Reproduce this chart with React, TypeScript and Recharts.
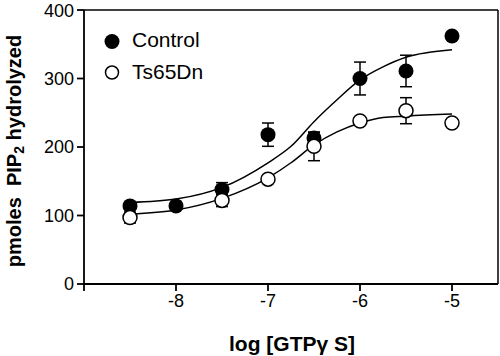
import React from "react";
import { ComposedChart, Line, Scatter, ErrorBar, XAxis, YAxis, ReferenceLine } from "recharts";

// log [GTPγS] doses
const doses = [-8.5, -8, -7.5, -7, -6.5, -6, -5.5, -5];

// measured values (pmoles PIP2 hydrolyzed)
const controlValues = [114, 114, 138, 218, 213, 300, 311, 362];
const controlErr = [0, 0, 10, 17, 8, 24, 23, 0];
const ts65Values = [97, null, 122, 153, 201, 238, 253, 235];
const ts65Err = [8, 0, 9, 0, 21, 0, 19, 0];

// fitted curves
const curveX = [-8.5, -8, -7.5, -7, -6.75, -6.5, -6.25, -6, -5.75, -5.5, -5];
const controlCurve = [119, 124, 141, 177, 201, 237, 269, 298, 317, 331, 342];
const ts65Curve = [102, 108, 125, 155, 177, 203, 222, 235, 243, 245, 248];

const xTicks = [-9, -8, -7, -6, -5];
const yTicks = [0, 100, 200, 300, 400];

const FONT = "'Liberation Sans', Arial, Helvetica, sans-serif";

const controlData = doses.map((x, i) => ({ x, y: controlValues[i], err: controlErr[i] }));
const ts65Data = doses
  .map((x, i) => ({ x, y: ts65Values[i], err: ts65Err[i] }))
  .filter((d) => d.y !== null);
const controlCurveData = curveX.map((x, i) => ({ x, y: controlCurve[i] }));
const ts65CurveData = curveX.map((x, i) => ({ x, y: ts65Curve[i] }));

const FilledDot = (props: any) => <circle cx={props.cx} cy={props.cy} r={7.5} fill="#000" />;
const OpenDot = (props: any) => (
  <circle cx={props.cx} cy={props.cy} r={7} fill="#fff" stroke="#000" strokeWidth={1.5} />
);

export default function App() {
  return (
    <div style={{ position: "absolute", left: 0, top: 0, width: 500, height: 356, background: "#fff", fontFamily: FONT }}>
      <ComposedChart width={500} height={356} margin={{ top: 10, right: 2, bottom: 0, left: 0 }}>
        <XAxis
          type="number"
          dataKey="x"
          domain={[-9, -4.5]}
          ticks={xTicks}
          tickFormatter={(v: number) => (v === -9 ? "" : String(v))}
          height={72}
          allowDataOverflow
          stroke="#000"
          strokeWidth={1.8}
          tickSize={7}
          tickMargin={3}
          tick={{ fill: "#000", fontSize: 18, fontFamily: FONT }}
        />
        <YAxis
          type="number"
          domain={[0, 400]}
          ticks={yTicks}
          width={84}
          allowDataOverflow
          stroke="#000"
          strokeWidth={1.8}
          tickSize={7}
          tickMargin={3}
          tick={{ fill: "#000", fontSize: 18, fontFamily: FONT }}
        />
        <ReferenceLine y={400} stroke="#000" strokeWidth={1.5} />
        <ReferenceLine x={-4.5} stroke="#000" strokeWidth={1.5} />
        <Line data={controlCurveData} dataKey="y" type="monotone" stroke="#000" strokeWidth={1.5} dot={false} isAnimationActive={false} />
        <Line data={ts65CurveData} dataKey="y" type="monotone" stroke="#000" strokeWidth={1.5} dot={false} isAnimationActive={false} />
        <Scatter data={controlData} dataKey="y" shape={FilledDot} isAnimationActive={false}>
          <ErrorBar dataKey="err" direction="y" width={6} stroke="#000" strokeWidth={1.5} />
        </Scatter>
        <Scatter data={ts65Data} dataKey="y" shape={OpenDot} isAnimationActive={false}>
          <ErrorBar dataKey="err" direction="y" width={6} stroke="#000" strokeWidth={1.5} />
        </Scatter>
      </ComposedChart>

      {/* legend */}
      <svg style={{ position: "absolute", left: 100, top: 28 }} width={26} height={60}>
        <circle cx={12} cy={13.5} r={7.5} fill="#000" />
        <circle cx={12} cy={44.5} r={6.5} fill="#fff" stroke="#000" strokeWidth={1.5} />
      </svg>
      <div style={{ position: "absolute", left: 132, top: 28, fontSize: 21, lineHeight: "24px" }}>Control</div>
      <div style={{ position: "absolute", left: 132, top: 60, fontSize: 21, lineHeight: "24px" }}>Ts65Dn</div>

      {/* axis titles */}
      <div
        style={{
          position: "absolute",
          left: 15,
          top: 151,
          transform: "translate(-50%, -50%) rotate(-90deg)",
          whiteSpace: "nowrap",
          fontWeight: "bold",
          fontSize: 20,
        }}
      >
        pmoles&nbsp; PIP<sub style={{ fontSize: 14, verticalAlign: "-3px" }}>2</sub> hydrolyzed
      </div>
      <div
        style={{
          position: "absolute",
          left: 292,
          top: 344,
          transform: "translate(-50%, -50%)",
          whiteSpace: "nowrap",
          fontWeight: "bold",
          fontSize: 21,
        }}
      >
        log [GTPγ S]
      </div>
    </div>
  );
}
